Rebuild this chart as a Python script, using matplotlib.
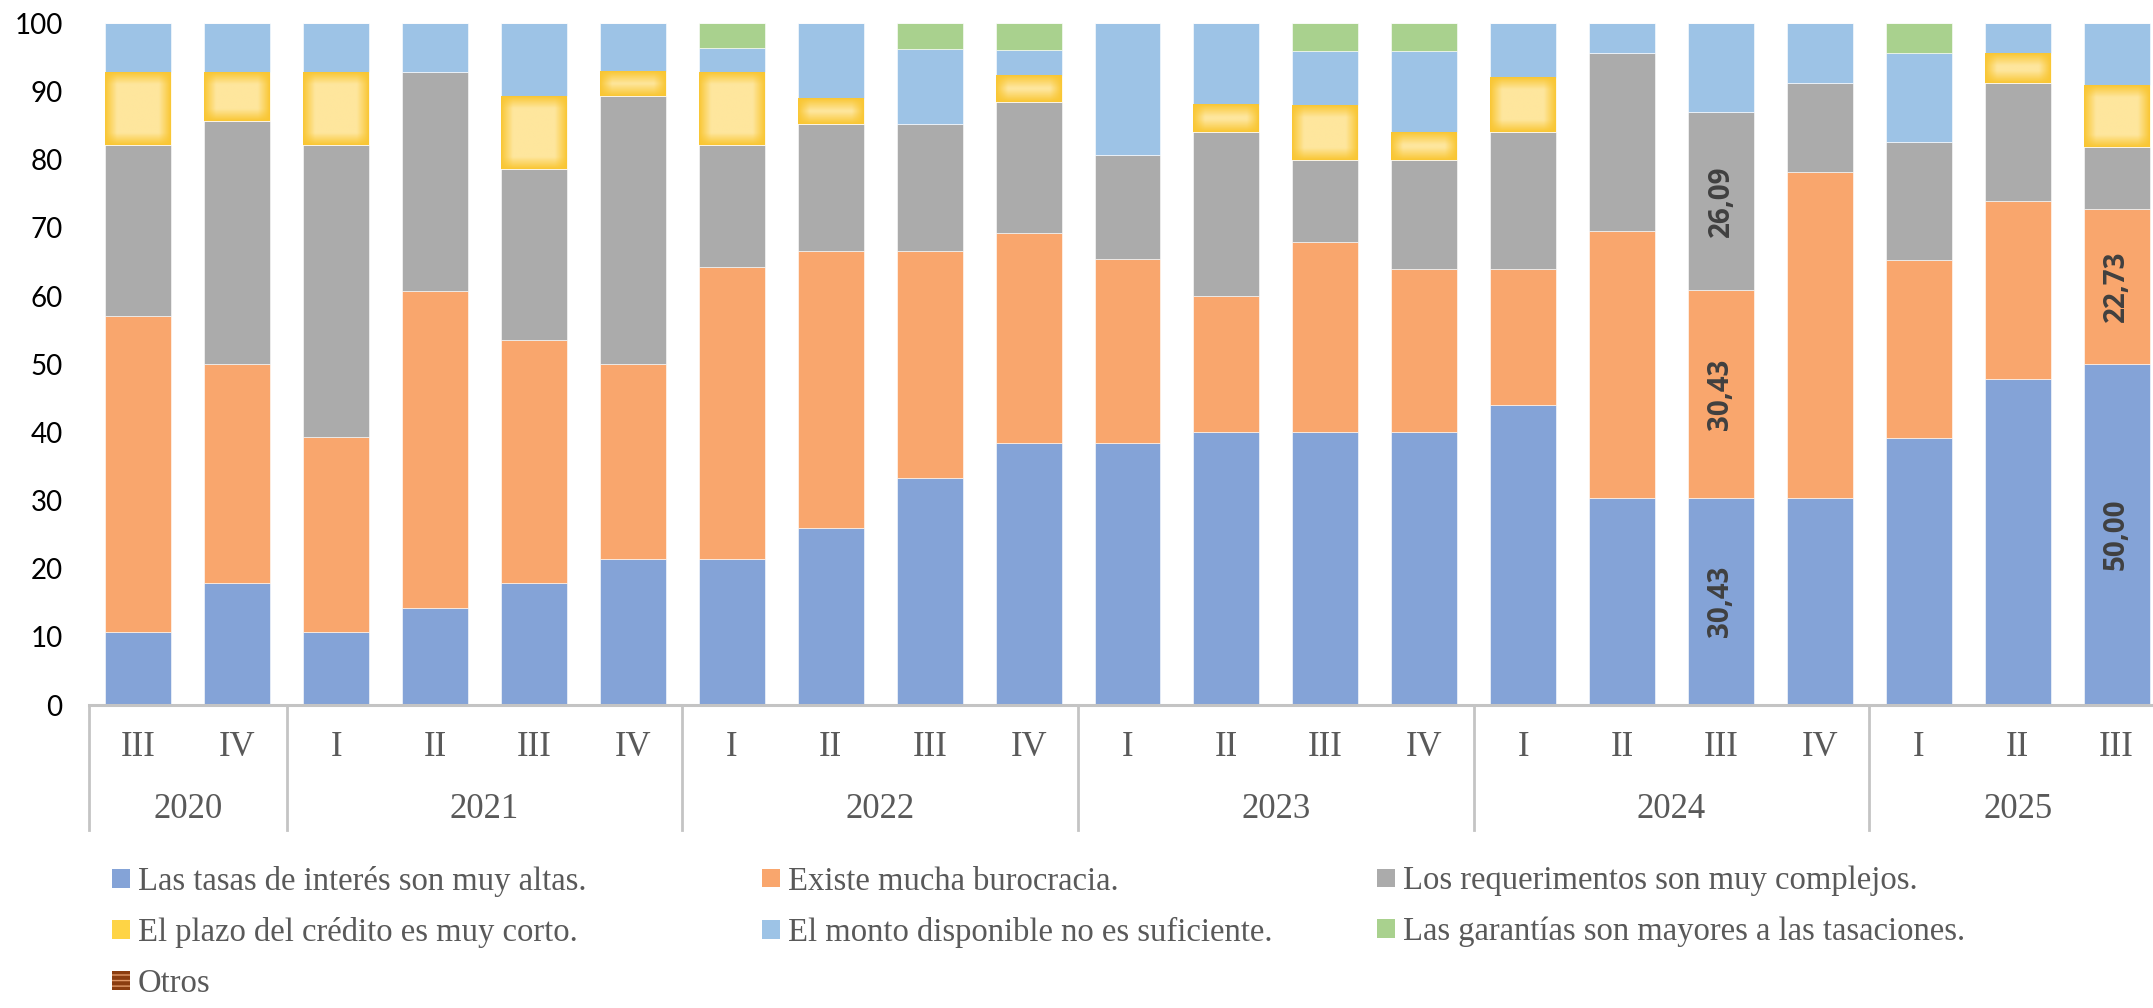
import numpy as np
import matplotlib
matplotlib.use('Agg')
import matplotlib.pyplot as plt
import matplotlib.patches as pts
import matplotlib.transforms as mtransforms
from matplotlib.colors import to_rgb

quarters = ['III', 'IV', 'I', 'II', 'III', 'IV', 'I', 'II', 'III', 'IV', 'I',
            'II', 'III', 'IV', 'I', 'II', 'III', 'IV', 'I', 'II', 'III']
years = ['2020', '2021', '2022', '2023', '2024', '2025']
year_count = [2, 4, 4, 4, 4, 3]

tasas = [10.71, 17.86, 10.71, 14.29, 17.86, 21.43, 21.43, 25.93, 33.33, 38.46, 38.46,
         40.00, 40.00, 40.00, 44.00, 30.43, 30.43, 30.43, 39.13, 47.83, 50.00]
burocracia = [46.43, 32.14, 28.57, 46.43, 35.71, 28.57, 42.86, 40.74, 33.33, 30.77, 26.92,
              20.00, 28.00, 24.00, 20.00, 39.13, 30.43, 47.83, 26.09, 26.09, 22.73]
requerimientos = [25.00, 35.71, 42.86, 32.14, 25.00, 39.29, 17.86, 18.52, 18.52, 19.23, 15.38,
                  24.00, 12.00, 16.00, 20.00, 26.09, 26.09, 13.04, 17.39, 17.39, 9.09]
plazo = [10.71, 7.14, 10.71, 0, 10.71, 3.57, 10.71, 3.70, 0, 3.85, 0,
         4.00, 8.00, 4.00, 8.00, 0, 0, 0, 0, 4.35, 9.09]
monto = [7.14, 7.14, 7.14, 7.14, 10.71, 7.14, 3.57, 11.11, 11.11, 3.85, 19.23,
         12.00, 8.00, 12.00, 8.00, 4.35, 13.04, 8.70, 13.04, 4.35, 9.09]
garantias = [0, 0, 0, 0, 0, 0, 3.57, 0, 3.70, 3.85, 0,
             0, 4.00, 4.00, 0, 0, 0, 0, 4.35, 0, 0]
otros = [0] * 21

series_names = ['Las tasas de interés son muy altas.',
                'Existe mucha burocracia.',
                'Los requerimentos son muy complejos.',
                'El plazo del crédito es muy corto.',
                'El monto disponible no es suficiente.',
                'Las garantías son mayores a las tasaciones.',
                'Otros']
# which bars carry value labels (bar index -> series index)
labeled = {16: [0, 1, 2], 20: [0, 1]}

colors = ['#84a3d7', '#f9a66d', '#ababab', '#fee397', '#9dc3e6', '#a9d18e', '#8b3d10']
glow_edge = to_rgb('#f9c632')
glow_mid = to_rgb('#fee69d')

W, H = 2153, 1008
fig = plt.figure(figsize=(W / 100, H / 100), dpi=100)
ax_top, ax_bot = 23.4, 705
ax = fig.add_axes([89 / W, 1 - ax_bot / H, 2077 / W, (ax_bot - ax_top) / H])

data = [tasas, burocracia, requerimientos, plazo, monto, garantias, otros]
x = np.arange(len(quarters))
bottom = np.zeros(len(quarters))
conts = []
for i, vals in enumerate(data):
    c = ax.bar(x, vals, 0.667, bottom=bottom, color=colors[i], edgecolor='white',
               linewidth=0.4, zorder=2)
    conts.append(c)
    bottom = bottom + np.array(vals)

ax.set_xlim(-0.5, len(quarters) - 0.5)
ax.set_ylim(0, 100)

# soft golden glow on the "plazo" segments (Excel gradient fill)
for rect in conts[3]:
    if rect.get_height() <= 0:
        continue
    x0, y0 = rect.get_x(), rect.get_y()
    w, h = rect.get_width(), rect.get_height()
    p0 = ax.transData.transform((x0, y0))
    p1 = ax.transData.transform((x0 + w, y0 + h))
    wp, hp = max(int(abs(p1[0] - p0[0])), 2), max(int(abs(p1[1] - p0[1])), 2)
    yy, xx = np.mgrid[0:hp, 0:wp]
    dx = np.minimum(xx + 0.5, wp - xx - 0.5)
    dy = np.minimum(yy + 0.5, hp - yy - 0.5)
    tx = np.clip(dx / 12.0, 0, 1)
    ty = np.clip(dy / 12.0, 0, 1)
    t = (tx * ty)[..., None]
    img = np.array(glow_edge) + (np.array(glow_mid) - np.array(glow_edge)) * t
    ax.imshow(img, extent=(x0, x0 + w, y0, y0 + h), aspect='auto', zorder=3,
              interpolation='bilinear')
ax.set_xlim(-0.5, len(quarters) - 0.5)
ax.set_ylim(0, 100)

# value labels
for si in range(len(data)):
    labs = []
    for bi, v in enumerate(data[si]):
        if si in labeled.get(bi, []):
            labs.append(f'{v:.2f}'.replace('.', ','))
        else:
            labs.append('')
    ax.bar_label(conts[si], labels=labs, label_type='center', rotation=90,
                 fontsize=20, fontweight='bold', color='#404040',
                 family=['Open Sans', 'DejaVu Sans'], zorder=5)

for s in ['top', 'right', 'left']:
    ax.spines[s].set_visible(False)
ax.spines['bottom'].set_color('#c4c4c4')
ax.spines['bottom'].set_linewidth(2.2)
ax.spines['bottom'].set_zorder(4)

ax.set_yticks(range(0, 101, 10))
ax.tick_params(axis='y', length=0, pad=19, labelsize=20)
for lab in ax.get_yticklabels():
    lab.set_family('Lato')
ax.set_xticks([])

# multi-level category axis
trans = mtransforms.blended_transform_factory(ax.transData, ax.transAxes)
span = ax_bot - ax_top
yq = -(748 - ax_bot) / span
yy_ = -(810 - ax_bot) / span
ysep = -(830 - ax_bot) / span
serif = ['Liberation Serif', 'DejaVu Serif']
for xi, q in zip(x, quarters):
    ax.text(xi, yq, q, transform=trans, ha='center', va='center', fontsize=25,
            color='#595959', family=serif)
start = 0
ax.plot([start - 0.5, start - 0.5], [0, ysep], transform=trans, color='#c4c4c4',
        lw=2, clip_on=False)
for yr, n in zip(years, year_count):
    mid = start + (n - 1) / 2
    ax.text(mid, yy_, yr, transform=trans, ha='center', va='center', fontsize=25,
            color='#595959', family=serif)
    end = start + n - 0.5
    ax.plot([end, end], [0, ysep], transform=trans, color='#c4c4c4', lw=2, clip_on=False)
    start += n

# legend, laid out row by row in three columns
handles = []
for i, name in enumerate(series_names):
    if i == 6:
        handles.append(pts.Patch(facecolor=colors[i], edgecolor='#e09868', hatch='---',
                                 linewidth=0, label=name))
    elif i == 3:
        handles.append(pts.Patch(facecolor='#fed445', label=name))
    else:
        handles.append(pts.Patch(facecolor=colors[i], label=name))

col_x = [112, 762, 1377]
for ci in range(3):
    hs = handles[ci::3]
    fig.legend(handles=hs, loc='upper left', bbox_to_anchor=(col_x[ci] / W, 1 - 866 / H),
               frameon=False, ncol=1, handlelength=0.55, handleheight=0.5,
               handletextpad=0.25, borderpad=0, borderaxespad=0, labelspacing=0.62,
               prop={'family': serif, 'size': 23.5}, labelcolor='#595959')

fig.savefig('out.png', dpi=100)
